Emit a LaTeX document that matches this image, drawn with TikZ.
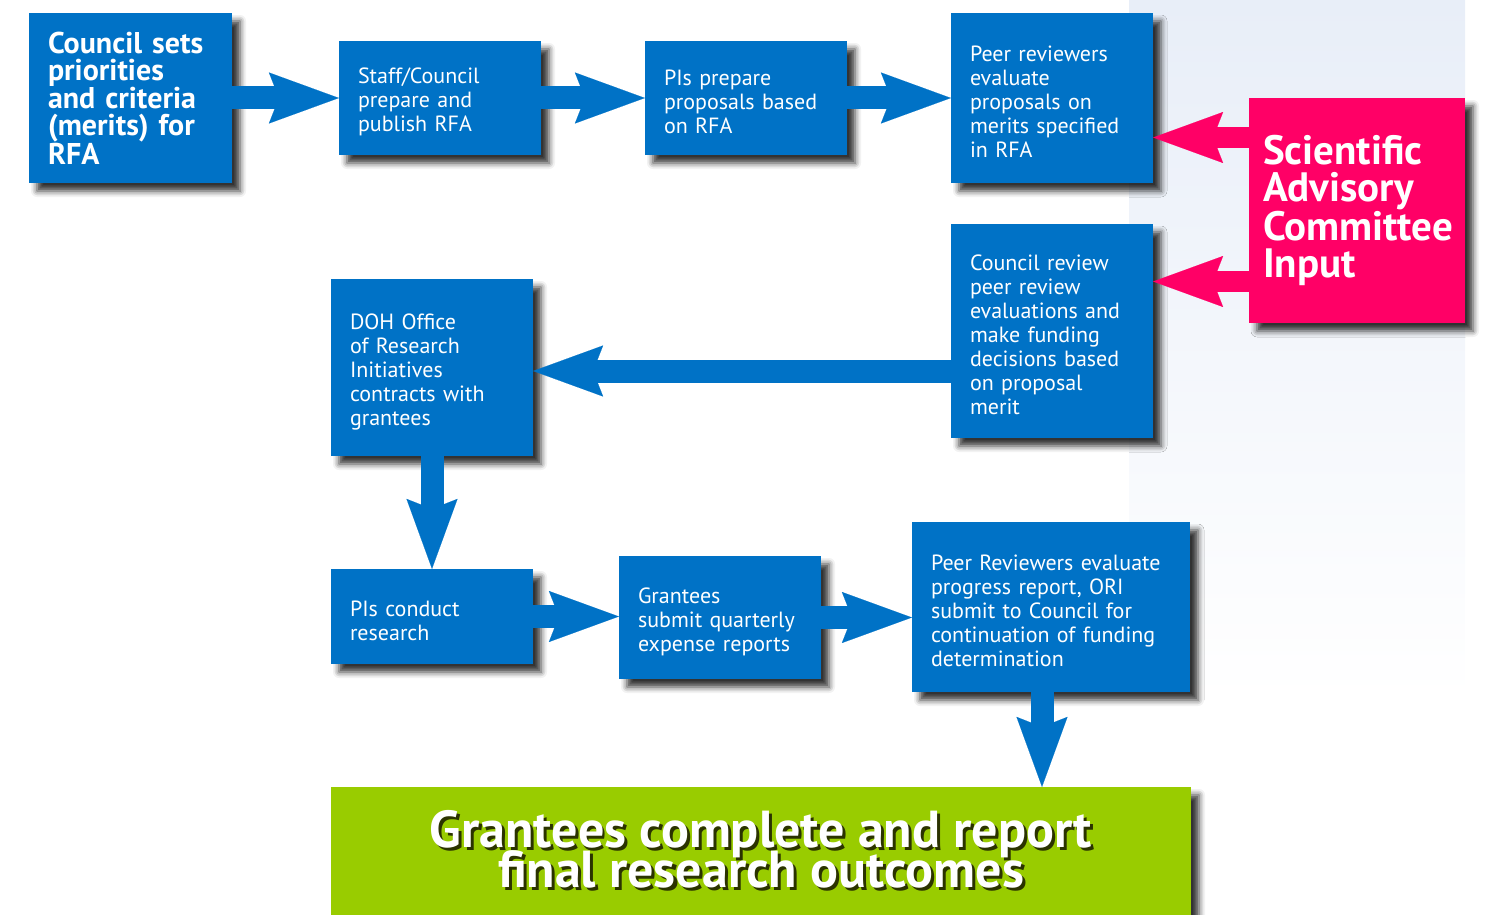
\documentclass[tikz,border=0pt]{standalone}
\usepackage{fontspec}
\setmainfont{PT Sans}
\usetikzlibrary{arrows.meta,shadows.blur}
\definecolor{flowblue}{HTML}{0072C6}
\definecolor{sacpink}{HTML}{FF0066}
\definecolor{endgreen}{HTML}{99CC00}
\definecolor{panelblue}{HTML}{E8EEF8}
\definecolor{textshade}{HTML}{2B3300}
\setlength\lineskiplimit{-50pt}
\newcommand\shadowline[1]{\rlap{\raisebox{-3pt}{\hspace{3pt}\textcolor{textshade}{#1}}}#1}
\tikzset{
  box/.style={rectangle,fill=flowblue,text=white,align=left,inner xsep=19pt,inner ysep=2pt,
    blur shadow={shadow xshift=8pt,shadow yshift=-8pt,shadow blur radius=6pt,shadow opacity=80},
    font=\fontsize{22}{24}\selectfont},
  lowered/.style={execute at begin node={\rule{0pt}{24pt}}},
  heavy/.style={font=\bfseries\fontsize{30}{27}\selectfont},
  sacbox/.style={box,fill=sacpink,inner xsep=14pt,font=\bfseries\fontsize{41}{37}\selectfont},
  flowarrow/.style={draw=flowblue,line width=23pt,
    -{Stealth[length=70pt,width=51pt,inset=10pt,line width=0.1pt,round=false]}},
  sacarrow/.style={flowarrow,draw=sacpink,line width=21pt},
  bigtext/.style={align=center,text=white,font=\bfseries\fontsize{52}{40}\selectfont}
}
\begin{document}
\begin{tikzpicture}[x=1pt,y=-1pt]
\useasboundingbox (0,0) rectangle (1489,915);
\shade[top color=panelblue,bottom color=white] (1129,0) rectangle (1465,700);
% top row
\node[box,heavy,text width=165pt,minimum height=170pt] (sets) at (130.5,98)
  {Council sets\\priorities\\and criteria\\(merits) for\\RFA};
\node[box,lowered,text width=164pt,minimum height=114pt] (publish) at (440,98)
  {Staff/Council\\prepare and\\publish RFA};
\node[box,lowered,text width=164pt,minimum height=114pt] (prepare) at (746,98)
  {PIs prepare\\proposals based\\on RFA};
\node[box,lowered,text width=164pt,minimum height=170pt] (evaluate) at (1052,98)
  {Peer reviewers\\evaluate\\proposals on\\merits specified\\in RFA};
\node[sacbox,text width=188pt,minimum height=225pt] (sac) at (1357,210.5)
  {Scientific\\Advisory\\Committee\\Input};
% middle row
\node[box,lowered,text width=164pt,minimum height=214pt] (decide) at (1052,331)
  {Council review\\peer review\\evaluations and\\make funding\\decisions based\\on proposal\\merit};
\node[box,lowered,text width=164pt,minimum height=177pt] (contract) at (432,367.5)
  {DOH Office\\of Research\\Initiatives\\contracts with\\grantees};
% lower row
\node[box,lowered,text width=164pt,minimum height=95pt] (conduct) at (432,616.5)
  {PIs conduct\\research};
\node[box,lowered,text width=164pt,minimum height=123pt] (expense) at (720,617.5)
  {Grantees\\submit quarterly\\expense reports};
\node[box,lowered,text width=240pt,minimum height=170pt] (progress) at (1051,607)
  {Peer Reviewers evaluate\\progress report, ORI\\submit to Council for\\continuation of funding\\determination};
\node[box,fill=endgreen,inner xsep=0pt,minimum width=860pt,minimum height=128pt] (final) at (761,851) {};
\node[bigtext] (finaltext) at (final.center)
  {\shadowline{Grantees complete and report}\\\shadowline{final research outcomes}};
% arrows
\draw[flowarrow] (sets.east) -- (publish.west);
\draw[flowarrow] (publish.east) -- (prepare.west);
\draw[flowarrow] (prepare.east) -- (evaluate.west);
\draw[sacarrow] ([yshift=73pt]sac.west) -- ([yshift=73pt]sac.west -| evaluate.east);
\draw[sacarrow] ([yshift=-71pt]sac.west) -- ([yshift=-71pt]sac.west -| decide.east);
\draw[flowarrow] ([yshift=-3.5pt]contract.east -| decide.west) -- ([yshift=-3.5pt]contract.east);
\draw[flowarrow] (contract.south) -- (conduct.north);
\draw[flowarrow] (conduct.east) -- (conduct.east -| expense.west);
\draw[flowarrow] (expense.east) -- (expense.east -| progress.west);
\draw[flowarrow] ([xshift=-9pt]progress.south) -- ([xshift=-9pt]progress.south |- final.north);
\end{tikzpicture}
\end{document}
